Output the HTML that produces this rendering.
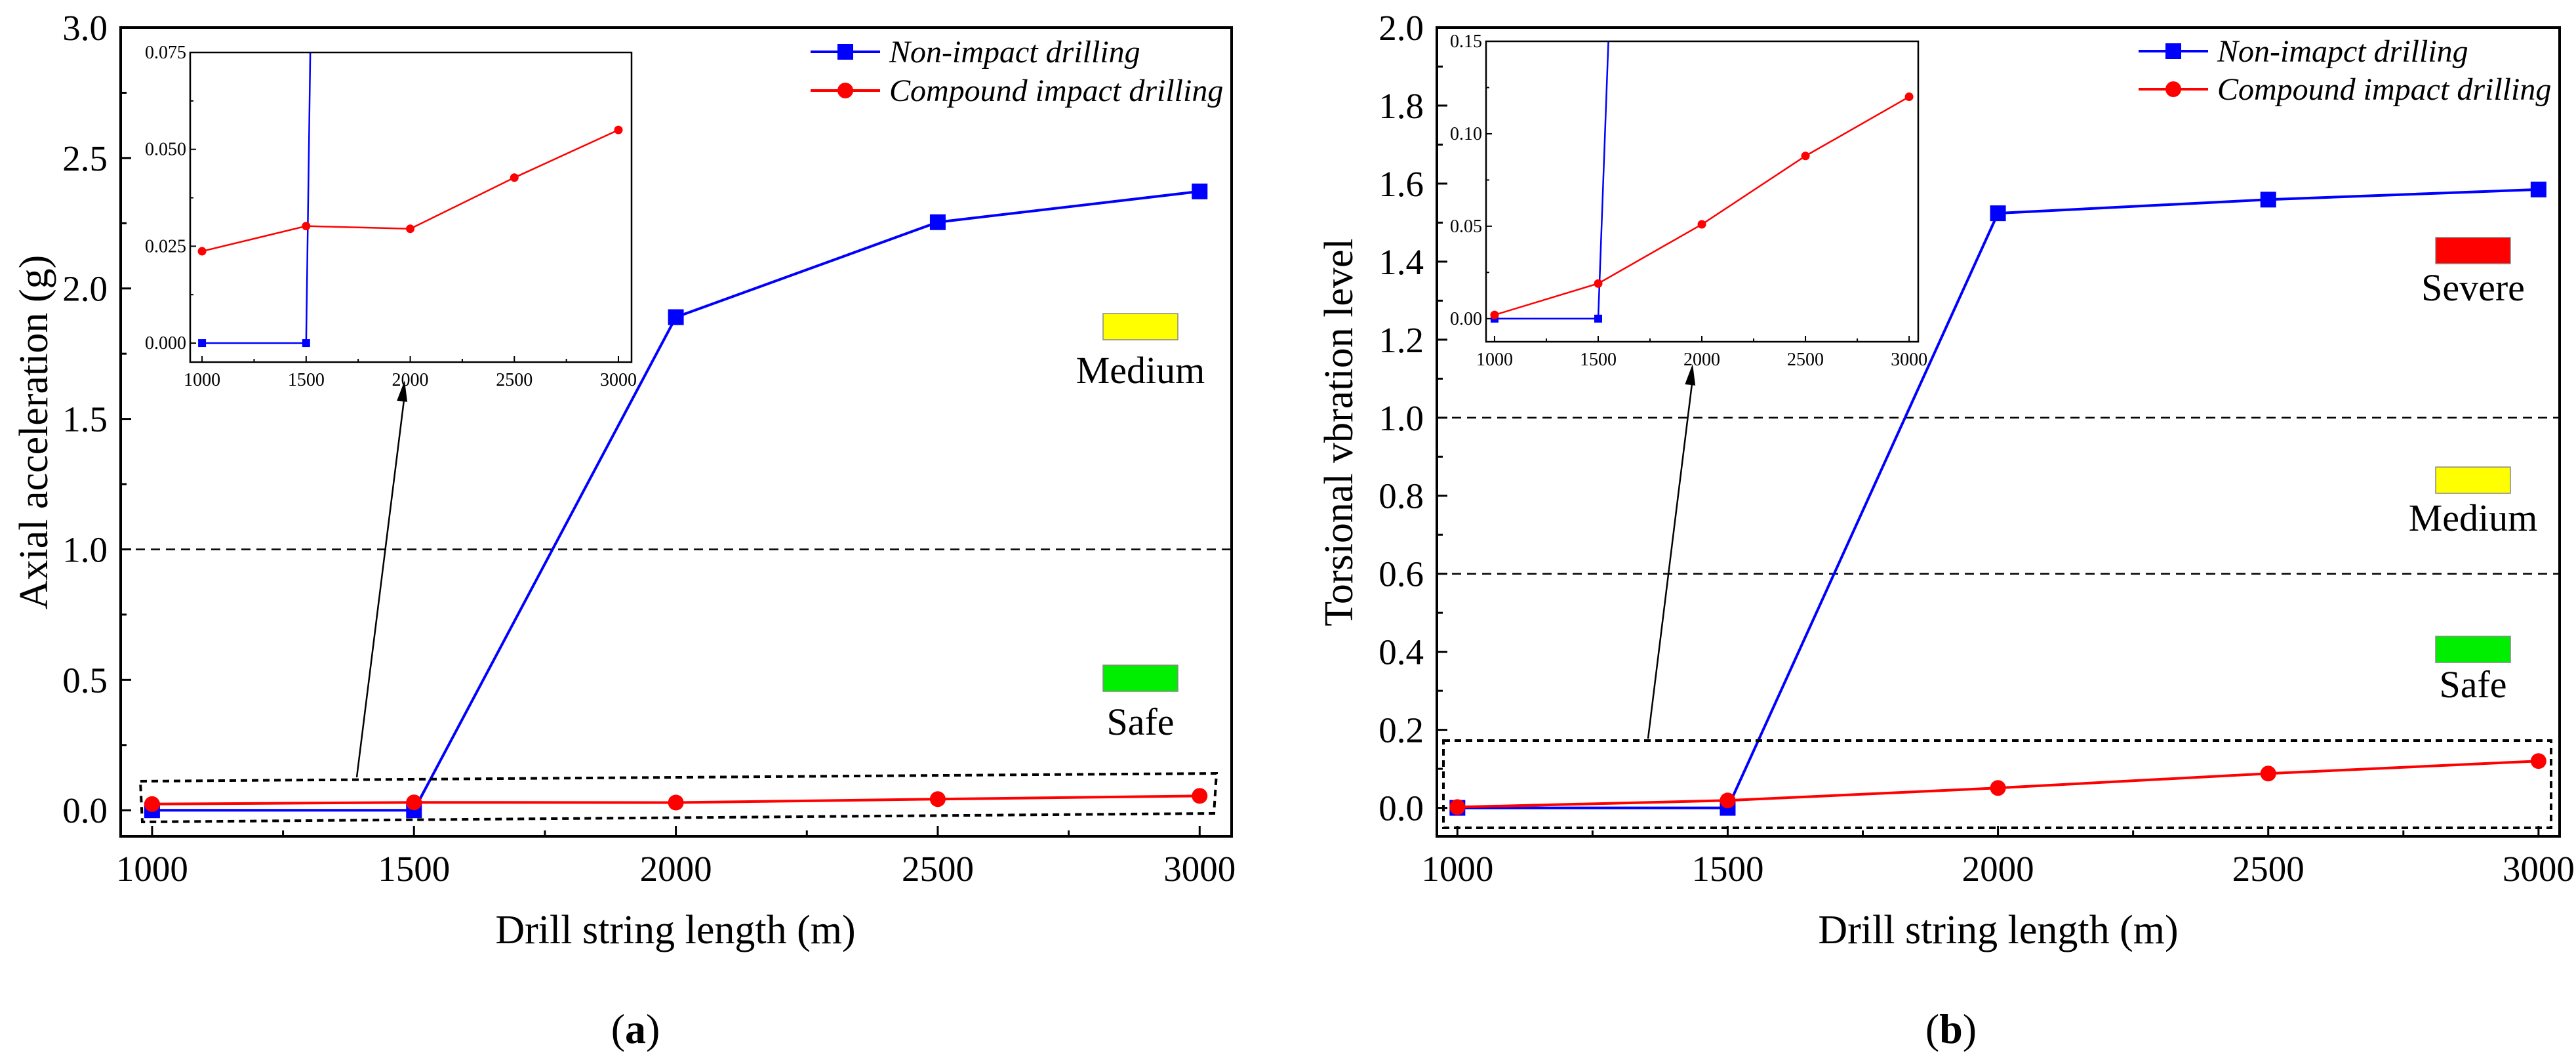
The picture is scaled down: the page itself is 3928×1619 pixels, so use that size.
<!DOCTYPE html>
<html><head><meta charset="utf-8"><style>
html,body{margin:0;padding:0;background:#fff;}
svg{display:block;font-family:"Liberation Serif",serif;}
</style></head><body>
<svg id="fig" xmlns="http://www.w3.org/2000/svg" width="3928" height="1619" viewBox="0 0 3928 1619"></svg>
<script>
// ---- data ----
const lengths = [1000, 1500, 2000, 2500, 3000];
const axialNonImpact = [0, 0, 1.89, 2.254, 2.372];
const axialCompound = [0.0237, 0.0302, 0.0295, 0.0427, 0.055];
const torsNonImpact = [0, 0, 1.524, 1.559, 1.585];
const torsCompound = [0.002, 0.019, 0.051, 0.088, 0.12];
const xTicks = [1000, 1500, 2000, 2500, 3000];
const axialTicks = [0.0, 0.5, 1.0, 1.5, 2.0, 2.5, 3.0];
const torsTicks = [0.0, 0.2, 0.4, 0.6, 0.8, 1.0, 1.2, 1.4, 1.6, 1.8, 2.0];
const axialInsetTicks = [0.000, 0.025, 0.050, 0.075];
const torsInsetTicks = [0.00, 0.05, 0.10, 0.15];
const axialThresholds = [1.0];
const torsThresholds = [0.6, 1.0];

const NS = "http://www.w3.org/2000/svg";
const svg = document.getElementById('fig');
function el(tag, attrs, parent, text) {
  const e = document.createElementNS(NS, tag);
  for (const k in attrs) e.setAttribute(k, attrs[k]);
  if (text !== undefined) e.textContent = text;
  (parent || svg).appendChild(e);
  return e;
}
function scale(d0, d1, r0, r1) { return v => r0 + (v - d0) / (d1 - d0) * (r1 - r0); }

function drawSeries(g, xs, ys, X, Y, color, marker, ms, lw, name) {
  const pts = xs.map((x, i) => X(x) + ',' + Y(ys[i])).join(' ');
  const line = el('polyline', {points: pts, fill: 'none', stroke: color, 'stroke-width': lw}, g);
  
  
  xs.forEach((x, i) => {
    let m;
    if (marker === 'square') m = el('rect', {x: X(x) - ms, y: Y(ys[i]) - ms, width: 2 * ms, height: 2 * ms, fill: color}, g);
    else m = el('circle', {cx: X(x), cy: Y(ys[i]), r: ms, fill: color}, g);
    
    
  });
}

function panel(cfg) {
  const g = el('g', {});
  
  
  const X = scale(cfg.xd[0], cfg.xd[1], cfg.L, cfg.R);
  const Y = scale(cfg.yd[0], cfg.yd[1], cfg.B, cfg.T);
  const clipId = cfg.name + '-clip';
  const cp = el('clipPath', {id: clipId}, g);
  el('rect', {x: cfg.L, y: cfg.T, width: cfg.R - cfg.L, height: cfg.B - cfg.T}, cp);
  cfg.thr.forEach(t => {
    const l = el('line', {x1: cfg.L, x2: cfg.R, y1: Y(t), y2: Y(t), stroke: '#000', 'stroke-width': 2.5, 'stroke-dasharray': '14,9'}, g);
    
    
  });
  cfg.yTicks.forEach((t, i) => {
    el('line', {x1: cfg.L, x2: cfg.L + 16, y1: Y(t), y2: Y(t), stroke: '#000', 'stroke-width': 3}, g);
    if (i < cfg.yTicks.length - 1) {
      const mid = (t + cfg.yTicks[i + 1]) / 2;
      el('line', {x1: cfg.L, x2: cfg.L + 9, y1: Y(mid), y2: Y(mid), stroke: '#000', 'stroke-width': 3}, g);
    }
    const tx = el('text', {x: cfg.L - 20, y: Y(t) + 19, 'text-anchor': 'end', 'font-size': 55}, g, t.toFixed(1));
    
    
  });
  xTicks.forEach((t, i) => {
    el('line', {x1: X(t), x2: X(t), y1: cfg.B, y2: cfg.B - 16, stroke: '#000', 'stroke-width': 3}, g);
    if (i < xTicks.length - 1) {
      const mid = (t + xTicks[i + 1]) / 2;
      el('line', {x1: X(mid), x2: X(mid), y1: cfg.B, y2: cfg.B - 9, stroke: '#000', 'stroke-width': 3}, g);
    }
    const tx = el('text', {x: X(t), y: cfg.B + 68, 'text-anchor': 'middle', 'font-size': 55}, g, String(t));
    
    
  });
  const sg = el('g', {'clip-path': 'url(#' + clipId + ')'}, g);
  drawSeries(sg, lengths, cfg.blue, X, Y, '#0000ff', 'square', 12, 4, cfg.name + '-non-impact');
  drawSeries(sg, lengths, cfg.red, X, Y, '#ff0000', 'circle', 12, 4, cfg.name + '-compound');
  const fr = el('rect', {x: cfg.L, y: cfg.T, width: cfg.R - cfg.L, height: cfg.B - cfg.T, fill: 'none', stroke: '#000', 'stroke-width': 4}, g);
  
  
  cfg.levels.forEach(lv => {
    const r = el('rect', {x: lv.x, y: lv.y, width: 114, height: 40, fill: lv.c, stroke: '#888', 'stroke-width': 1.5}, g);
    
    
    const t = el('text', {x: lv.x + 57, y: lv.ty, 'text-anchor': 'middle', 'font-size': 58}, g, lv.t);
    
    
  });
  const lg = el('g', {}, g);
  
  
  [[cfg.leg[0], '#0000ff', 'square', cfg.legY[0]], ['Compound impact drilling', '#ff0000', 'circle', cfg.legY[1]]].forEach(([txt, c, m, y]) => {
    const e = el('g', {}, lg);
    
    
    el('line', {x1: cfg.legX, x2: cfg.legX + 106, y1: y, y2: y, stroke: c, 'stroke-width': 4}, e);
    if (m === 'square') el('rect', {x: cfg.legX + 41, y: y - 12, width: 24, height: 24, fill: c}, e);
    else el('circle', {cx: cfg.legX + 53, cy: y, r: 12, fill: c}, e);
    el('text', {x: cfg.legX + 120, y: y + 16, 'font-size': 48, 'font-style': 'italic'}, e, txt);
  });
  const zb = el('polygon', {points: cfg.zbox, fill: 'none', stroke: '#000', 'stroke-width': 4, 'stroke-dasharray': '10,7'}, g);
  
  
  const a = cfg.arrow;
  const ar = el('line', {x1: a[0], y1: a[1], x2: a[2], y2: a[3] + 22, stroke: '#000', 'stroke-width': 2.5}, g);
  
  
  const ang = Math.atan2(a[3] - a[1], a[2] - a[0]);
  const p = (d, o) => [a[2] - d * Math.cos(ang) + o * Math.sin(ang), a[3] - d * Math.sin(ang) - o * Math.cos(ang)];
  const h1 = p(32, 8), h2 = p(32, -8);
  el('polygon', {points: `${a[2]},${a[3]} ${h1} ${h2}`, fill: '#000'}, g);
  const ins = cfg.inset;
  const ig = el('g', {}, g);
  
  
  el('rect', {x: ins.L, y: ins.T, width: ins.R - ins.L, height: ins.B - ins.T, fill: '#fff'}, ig);
  const IX = scale(ins.xd[0], ins.xd[1], ins.L, ins.R);
  const IY = scale(ins.yd[0], ins.yd[1], ins.B, ins.T);
  const icp = el('clipPath', {id: clipId + '-inset'}, ig);
  el('rect', {x: ins.L, y: ins.T, width: ins.R - ins.L, height: ins.B - ins.T}, icp);
  ins.ticks.forEach((t, i) => {
    el('line', {x1: ins.L, x2: ins.L + 9, y1: IY(t), y2: IY(t), stroke: '#000', 'stroke-width': 2}, ig);
    if (i < ins.ticks.length - 1) {
      const mid = (t + ins.ticks[i + 1]) / 2;
      el('line', {x1: ins.L, x2: ins.L + 5, y1: IY(mid), y2: IY(mid), stroke: '#000', 'stroke-width': 2}, ig);
    }
    const tx = el('text', {x: ins.L - 6, y: IY(t) + 9, 'text-anchor': 'end', 'font-size': 28}, ig, t.toFixed(ins.dec));
    
    
  });
  xTicks.forEach((t, i) => {
    el('line', {x1: IX(t), x2: IX(t), y1: ins.B, y2: ins.B - 9, stroke: '#000', 'stroke-width': 2}, ig);
    if (i < xTicks.length - 1) {
      const mid = (t + xTicks[i + 1]) / 2;
      el('line', {x1: IX(mid), x2: IX(mid), y1: ins.B, y2: ins.B - 5, stroke: '#000', 'stroke-width': 2}, ig);
    }
    const tx = el('text', {x: IX(t), y: ins.B + 36, 'text-anchor': 'middle', 'font-size': 28}, ig, String(t));
    
    
  });
  const isg = el('g', {'clip-path': 'url(#' + clipId + '-inset)'}, ig);
  drawSeries(isg, lengths, cfg.blue, IX, IY, '#0000ff', 'square', 6, 2.5, cfg.name + '-inset-non-impact');
  drawSeries(isg, lengths, cfg.red, IX, IY, '#ff0000', 'circle', 6.5, 2.5, cfg.name + '-inset-compound');
  el('rect', {x: ins.L, y: ins.T, width: ins.R - ins.L, height: ins.B - ins.T, fill: 'none', stroke: '#000', 'stroke-width': 2.5}, ig);
  const yt = el('text', {transform: `translate(${cfg.ytX},${cfg.ytY}) rotate(-90)`, 'text-anchor': 'middle', 'font-size': 62}, g, cfg.ytitle);
  
  
  const xt = el('text', {x: cfg.xtX, y: 1438, 'text-anchor': 'middle', 'font-size': 62}, g, 'Drill string length (m)');
  
  
  const pl = el('text', {x: cfg.plX, y: 1590, 'text-anchor': 'middle', 'font-size': 64}, g);
  
  
  el('tspan', {}, pl, '(');
  el('tspan', {'font-weight': 'bold'}, pl, cfg.letter);
  el('tspan', {}, pl, ')');
}

panel({
  name: 'panel-a', L: 184, R: 1878, T: 42, B: 1275, xd: [940, 3061], yd: [-0.1, 3.0],
  yTicks: axialTicks, thr: axialThresholds, blue: axialNonImpact, red: axialCompound,
  levels: [{x: 1682, y: 478, c: '#ffff00', t: 'Medium', ty: 584}, {x: 1682, y: 1014, c: '#00ee00', t: 'Safe', ty: 1120}],
  leg: ['Non-impact drilling'], legX: 1236, legY: [79, 138],
  zbox: '214,1191 1855,1179 1851,1240 217,1253', arrow: [544, 1185, 617, 580],
  inset: {L: 290, R: 963, T: 80, B: 552, xd: [943, 3063], yd: [-0.0049, 0.075], ticks: axialInsetTicks, dec: 3},
  ytitle: 'Axial acceleration (g)', ytX: 72, ytY: 659, xtX: 1030, plX: 969, letter: 'a'
});
panel({
  name: 'panel-b', L: 2191, R: 3903, T: 42, B: 1275, xd: [962, 3039], yd: [-0.073, 2.0],
  yTicks: torsTicks, thr: torsThresholds, blue: torsNonImpact, red: torsCompound,
  levels: [{x: 3714, y: 362, c: '#ff0000', t: 'Severe', ty: 458}, {x: 3714, y: 712, c: '#ffff00', t: 'Medium', ty: 809}, {x: 3714, y: 970, c: '#00ee00', t: 'Safe', ty: 1063}],
  leg: ['Non-imapct drilling'], legX: 3261, legY: [78, 136],
  zbox: '2201,1129 3890,1129 3890,1262 2201,1262', arrow: [2513, 1126, 2581, 555],
  inset: {L: 2266, R: 2925, T: 63, B: 521, xd: [959, 3044], yd: [-0.0125, 0.15], ticks: torsInsetTicks, dec: 2},
  ytitle: 'Torsional vbration level', ytX: 2062, ytY: 659, xtX: 3047, plX: 2975, letter: 'b'
});
</script>
</body></html>
